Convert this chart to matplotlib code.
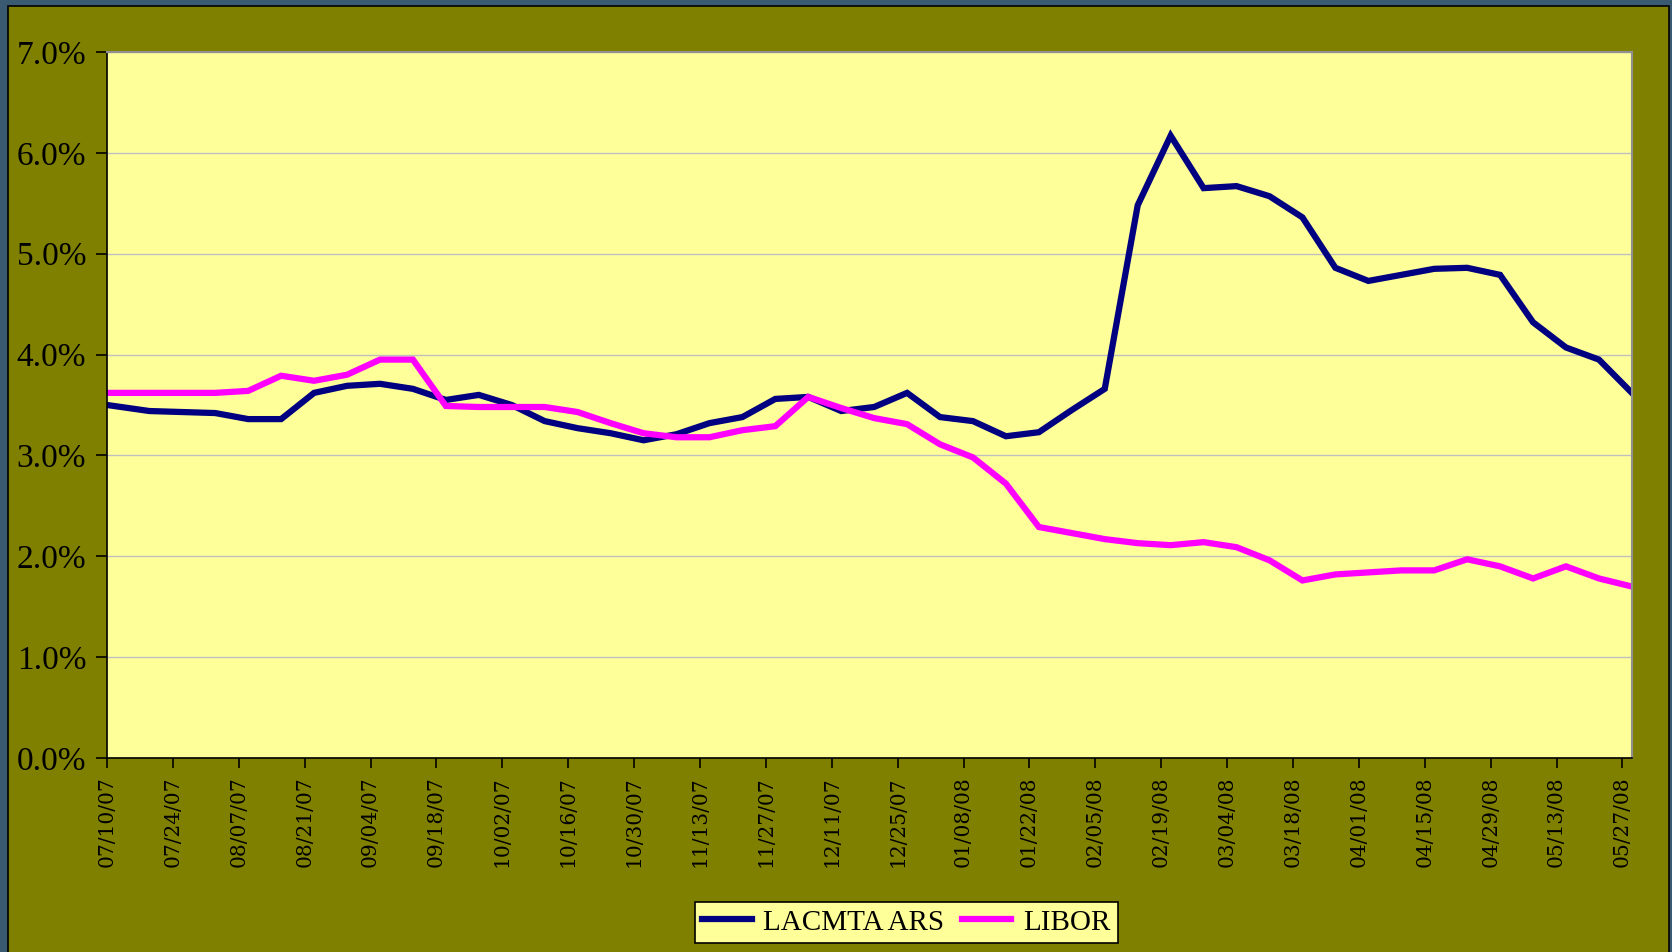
import numpy as np
import pandas as pd
import matplotlib
matplotlib.use("Agg")
import matplotlib.pyplot as plt
from matplotlib.patches import Rectangle

# weekly reset dates (first point 07/10/07, then Thursdays)
dates = [pd.Timestamp("2007-07-10")] + list(pd.date_range("2007-07-19", periods=46, freq="7D"))

lacmta_ars = [3.50, 3.44, 3.43, 3.42, 3.36, 3.36, 3.62, 3.69, 3.71, 3.66,
              3.55, 3.60, 3.50, 3.34, 3.27, 3.22, 3.15, 3.21, 3.32, 3.38,
              3.56, 3.58, 3.44, 3.48, 3.62, 3.38, 3.34, 3.19, 3.23, 3.45,
              3.66, 5.48, 6.17, 5.65, 5.67, 5.57, 5.36, 4.86, 4.73, 4.79,
              4.85, 4.86, 4.79, 4.32, 4.07, 3.95, 3.62]

libor = [3.62, 3.62, 3.62, 3.62, 3.64, 3.79, 3.74, 3.80, 3.95, 3.95,
         3.49, 3.48, 3.48, 3.48, 3.43, 3.32, 3.22, 3.18, 3.18, 3.25,
         3.29, 3.58, 3.47, 3.37, 3.31, 3.11, 2.98, 2.72, 2.29, 2.23,
         2.17, 2.13, 2.11, 2.14, 2.09, 1.96, 1.76, 1.82, 1.84, 1.86,
         1.86, 1.97, 1.90, 1.78, 1.90, 1.78, 1.70]

tick_dates = pd.date_range("2007-07-10", "2008-05-27", freq="14D")
tick_labels = [d.strftime("%m/%d/%y") for d in tick_dates]
y_ticks = [0, 1, 2, 3, 4, 5, 6, 7]
y_labels = [f"{v:.1f}%" for v in y_ticks]

navy = "#000080"
magenta = "#FF00FF"
olive = "#808000"
plot_bg = "#FFFF99"

plt.rcParams["font.family"] = ["Liberation Serif", "DejaVu Serif"]

fig = plt.figure(figsize=(16.72, 9.52), dpi=100)
fig.patch.set_facecolor("#3A5A72")
frame = Rectangle((0.0048, -0.01), 0.9934, 1.0037, transform=fig.transFigure,
                  facecolor=olive, edgecolor="black", linewidth=1.2, zorder=-10)
fig.add_artist(frame)

ax = fig.add_axes([0.064, 0.2038, 0.912, 0.7416])
ax.set_facecolor(plot_bg)

ax.plot(dates, lacmta_ars, color=navy, linewidth=4.5, label="LACMTA ARS", solid_joinstyle="miter")
ax.plot(dates, libor, color=magenta, linewidth=4.5, label="LIBOR", solid_joinstyle="miter")

ax.set_xlim(pd.Timestamp("2007-07-10"), dates[-1])
ax.set_ylim(0, 7)
ax.set_yticks(y_ticks)
ax.set_yticklabels(y_labels, fontsize=24)
ax.set_xticks(tick_dates)
ax.set_xticklabels(tick_labels, rotation=90, fontfamily="DejaVu Serif", fontsize=14.5)

ax.grid(axis="y", color="#C0C0C0", linewidth=1)
ax.set_axisbelow(True)

ax.tick_params(axis="y", direction="out", length=8, width=1.2, pad=7, colors="black")
ax.tick_params(axis="x", direction="out", length=7, width=1.2, pad=6, colors="black")

for side in ["left", "bottom"]:
    ax.spines[side].set_color("black")
    ax.spines[side].set_linewidth(1.2)
for side in ["top", "right"]:
    ax.spines[side].set_color("#909090")
    ax.spines[side].set_linewidth(1.5)

leg = fig.legend(loc="center", bbox_to_anchor=(0.542, 0.031), ncol=2, fontsize=21,
                 frameon=True, fancybox=False, framealpha=1, handlelength=1.7,
                 handletextpad=0.4, columnspacing=0.6, borderpad=0.25)
leg.get_frame().set_facecolor(plot_bg)
leg.get_frame().set_edgecolor("black")
leg.get_frame().set_linewidth(1.2)

fig.savefig("out.png", dpi=100, facecolor=fig.get_facecolor())
